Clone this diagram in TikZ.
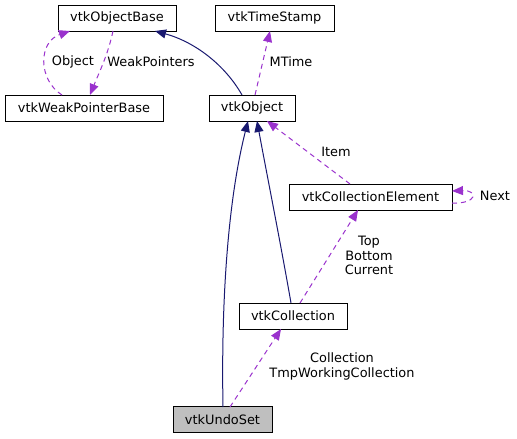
\documentclass[tikz,border=0pt]{standalone}
\usepackage{fontspec}
\setmainfont{DejaVu Sans}
\usetikzlibrary{arrows.meta}
\definecolor{inh}{HTML}{191970}
\definecolor{use}{HTML}{9A32CD}
\definecolor{hl}{HTML}{BFBFBF}
\tikzset{
  cls/.style={draw=black, line width=0.9bp, rectangle, inner sep=0pt, minimum height=26bp, font=\fontsize{12.9bp}{15bp}\selectfont},
  inhedge/.style={draw=inh, line width=1bp, -{Triangle[length=11bp,width=9bp]}},
  useedge/.style={draw=use, line width=1bp, dash pattern=on 5bp off 4bp, -{Triangle[length=11bp,width=9bp]}},
  lbl/.style={font=\fontsize{12.9bp}{14.5bp}\selectfont, align=center, inner sep=0pt}
}
\begin{document}
\begin{tikzpicture}[x=1bp,y=-1bp]
\useasboundingbox (0,0) rectangle (517,439);
\node[cls, minimum width=118bp] (ob) at (117,18) {vtkObjectBase};
\node[cls, minimum width=119bp] (ts) at (274.5,18) {vtkTimeStamp};
\node[cls, minimum width=158bp] (wp) at (84,108) {vtkWeakPointerBase};
\node[cls, minimum width=86bp] (o) at (252,108) {vtkObject};
\node[cls, minimum width=163bp] (ce) at (370.5,197) {vtkCollectionElement};
\node[cls, minimum width=108bp] (c) at (293,316) {vtkCollection};
\node[cls, minimum width=99bp, fill=hl] (u) at (222.5,419.5) {vtkUndoSet};
% coordinates on boxes
\coordinate (obA) at (155,31);
\coordinate (obB) at (70,31);
\coordinate (obC) at (113,31);
\coordinate (wpA) at (62,95);
\coordinate (wpB) at (90,95);
\coordinate (oT1) at (242,95);
\coordinate (oT2) at (255,95);
\coordinate (oB1) at (248,121);
\coordinate (oB2) at (257,121);
\coordinate (oB3) at (267,121);
\coordinate (tsB) at (270,31);
\coordinate (ceT) at (350,184);
\coordinate (ceB) at (358,210);
\coordinate (ceR1) at (452,191);
\coordinate (ceR2) at (452,203);
\coordinate (cT1) at (291,303);
\coordinate (cT2) at (300,303);
\coordinate (cB) at (281,329);
\coordinate (uT1) at (223,407);
\coordinate (uT2) at (230,407);
% inheritance
\draw[inhedge] (oT1) .. controls (225,65) and (195,42) .. (obA);
\draw[inhedge] (uT1) .. controls (221,300) and (228,200) .. (oB1);
\draw[inhedge] (cT1) .. controls (280,240) and (266,170) .. (oB2);
% usage
\draw[useedge] (wpA) .. controls (38,80) and (38,42) .. (obB);
\draw[useedge] (obC) .. controls (108,55) and (98,75) .. (wpB);
\draw[useedge] (oT2) -- (tsB);
\draw[useedge] (ceT) -- (oB3);
\draw[useedge] (ceR2) .. controls (478,204) and (478,190) .. (ceR1);
\draw[useedge] (cT2) -- (ceB);
\draw[useedge] (uT2) -- (cB);
% labels
\node[lbl] (l1) at (73,62) {Object};
\node[lbl] (l2) at (151,62) {WeakPointers};
\node[lbl] (l3) at (291,62) {MTime};
\node[lbl] (l4) at (336,152) {Item};
\node[lbl] (l5) at (495,196) {Next};
\node[lbl] (l6) at (369,255.5) {Top\\Bottom\\Current};
\node[lbl] (l7) at (342,366.5) {Collection\\TmpWorkingCollection};
\end{tikzpicture}
\end{document}
